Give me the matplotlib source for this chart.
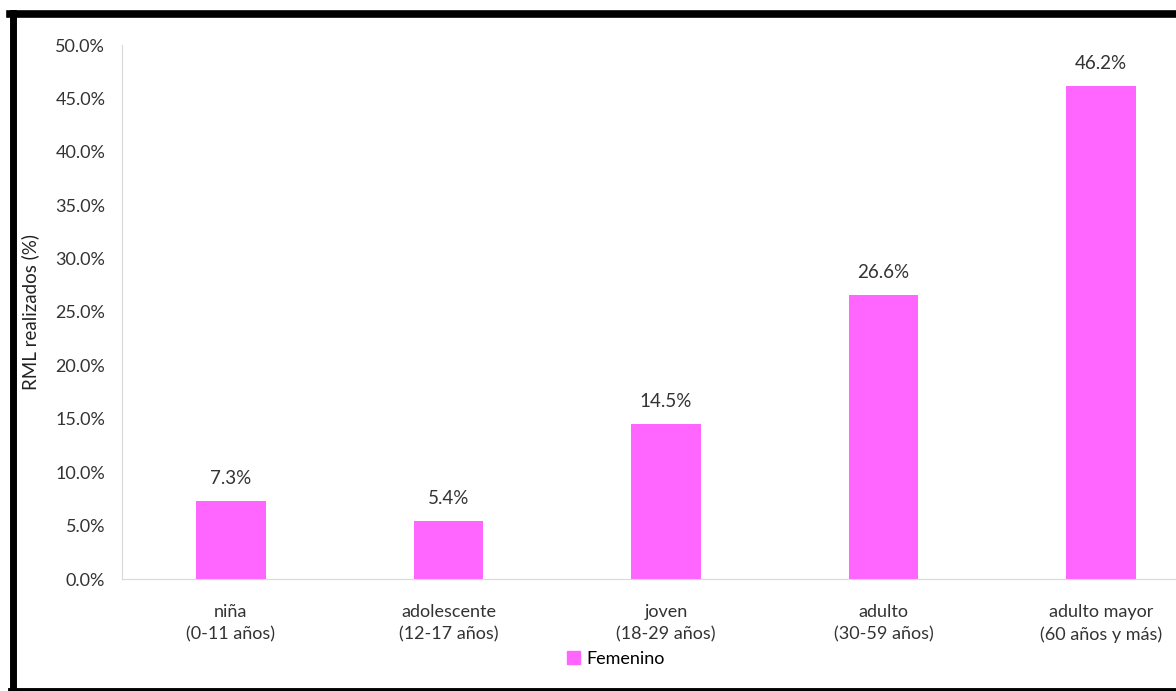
import matplotlib.pyplot as plt
from matplotlib.lines import Line2D
from matplotlib.patches import Patch

categories = ["niña\n(0-11 años)", "adolescente\n(12-17 años)", "joven\n(18-29 años)",
              "adulto\n(30-59 años)", "adulto mayor\n(60 años y más)"]
values = [7.3, 5.4, 14.5, 26.6, 46.2]
series_name = "Femenino"

plt.rcParams['font.family'] = ['Lato', 'DejaVu Sans']

fig = plt.figure(figsize=(11.76, 6.91), dpi=100)
# plot area runs past the right edge (the source picture is cropped)
ax = fig.add_axes([122 / 1176, 1 - 579 / 691, 1088 / 1176, 534 / 691])

x = range(len(categories))
bars = ax.bar(x, values, width=0.32, color="#FF66FF")
for b, v in zip(bars, values):
    ax.text(b.get_x() + b.get_width() / 2, v + 1.3, f"{v:.1f}%",
            ha="center", va="bottom", fontsize=13.5, color="#333333")

ax.set_xlim(-0.5, 4.5)
ax.set_ylim(0, 50)
ax.set_yticks([i * 5 for i in range(11)])
ax.set_yticklabels([f"{i * 5:.1f}%" for i in range(11)], fontsize=13, color="#333333")
ax.set_xticks(list(x))
ax.set_xticklabels(categories, fontsize=13, color="#333333", linespacing=1.45)
ax.tick_params(length=0, pad=12)
ax.tick_params(axis="x", pad=18)
for s in ["top", "right"]:
    ax.spines[s].set_visible(False)
for s in ["left", "bottom"]:
    ax.spines[s].set_color("#D9D9D9")
ax.set_ylabel("RML realizados (%)", fontsize=13.5, color="#222222", labelpad=12)

fig.legend(handles=[Patch(color="#FF66FF", label=series_name)],
           loc="center", bbox_to_anchor=(616 / 1176, 1 - 659 / 691),
           frameon=False, fontsize=13, handlelength=0.7, handleheight=0.7,
           handletextpad=0.4)

# black frame (right side cut off in the source)
fig.add_artist(Line2D([13 / 1176, 13 / 1176], [0.5 / 691, 1 - 13 / 691], color="black", lw=5))
fig.add_artist(Line2D([10 / 1176, 1], [1 - 13.5 / 691, 1 - 13.5 / 691], color="black", lw=5.5))
fig.add_artist(Line2D([10 / 1176, 1], [1.5 / 691, 1.5 / 691], color="black", lw=3.5))

fig.savefig("out.png", dpi=100)
